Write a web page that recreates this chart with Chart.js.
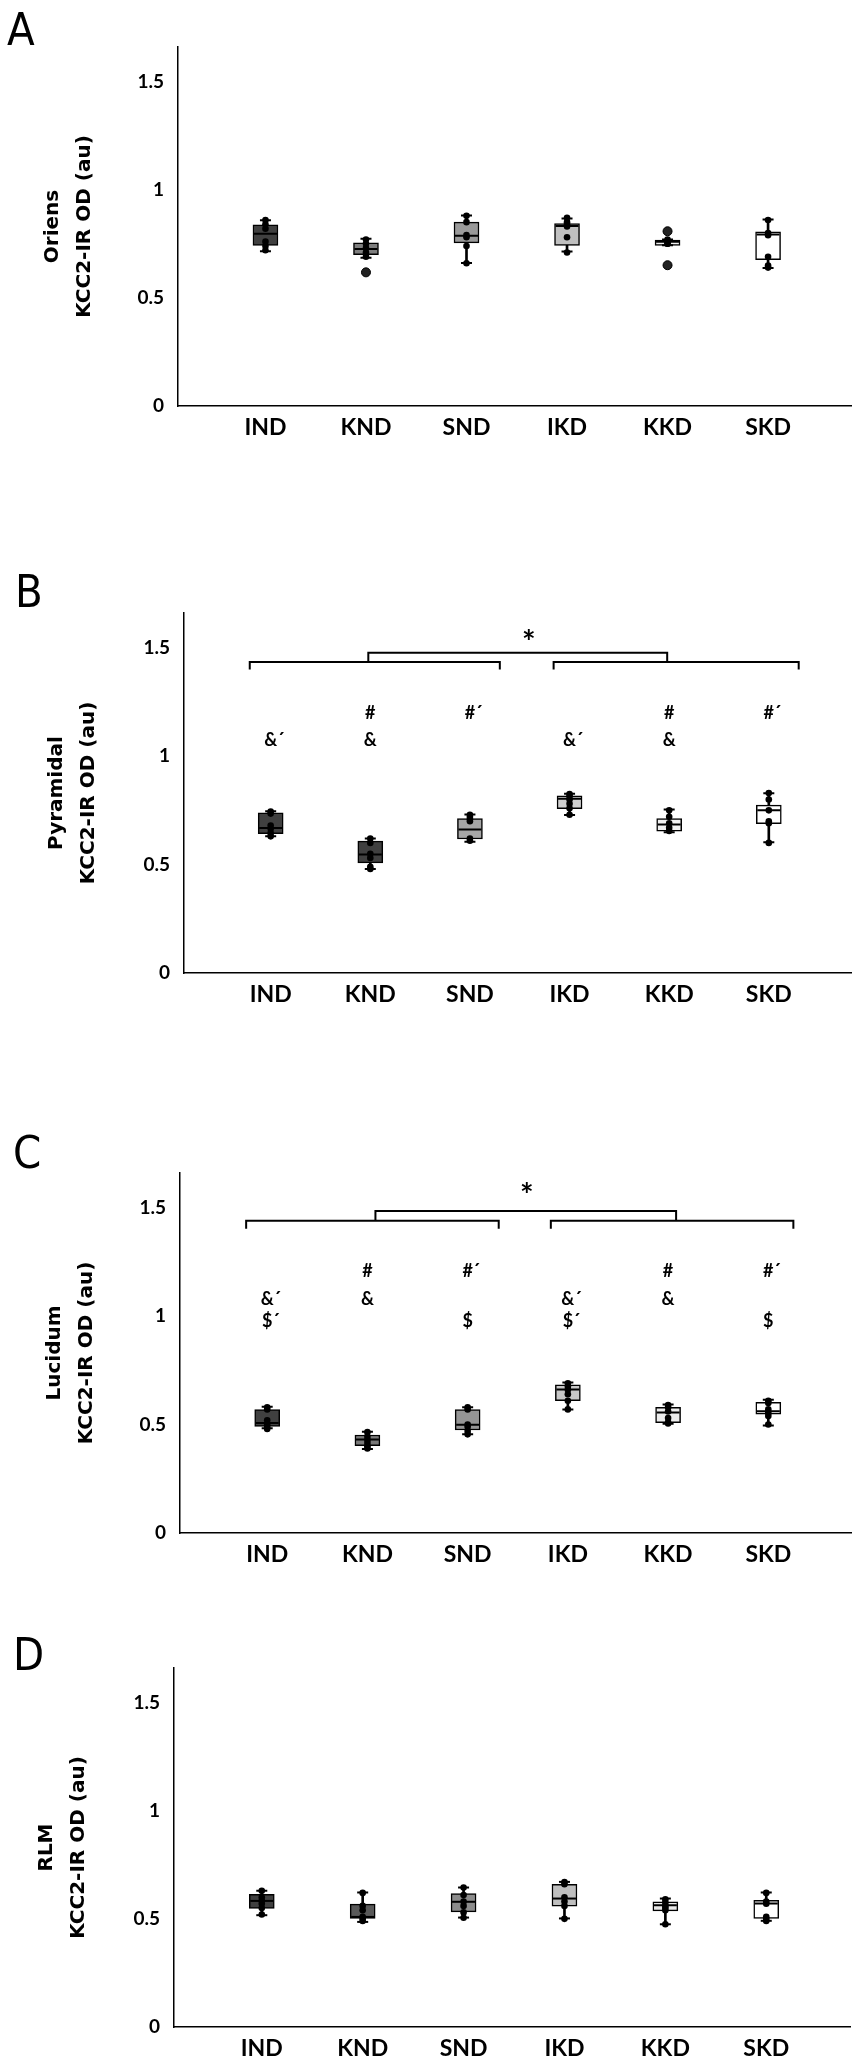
<!DOCTYPE html>
<html><head><meta charset="utf-8">
<script src="https://cdn.jsdelivr.net/npm/chart.js@4.4.1/dist/chart.umd.min.js"></script>
<style>
html,body{margin:0;padding:0;background:#fff;}
#page{position:relative;width:865px;height:2069px;overflow:hidden;background:#fff;}
.letter{position:absolute;font-family:'Liberation Sans Narrow','DejaVu Sans Condensed',sans-serif;font-size:45px;line-height:45px;color:#000;}
</style></head><body><div id="page"></div>
<script>
// ---------- data ----------
const categories = ['IND', 'KND', 'SND', 'IKD', 'KKD', 'SKD'];
const yTickValues = [0, 0.5, 1, 1.5];
const yMax = 1.66;
const yTitleUnit = 'KCC2-IR OD (au)';

// A - Oriens
const oriensMin = [0.716, 0.685, 0.661, 0.714, 0.743, 0.638];
const oriensQ1 = [0.743, 0.700, 0.754, 0.743, 0.743, 0.677];
const oriensMedian = [0.796, 0.726, 0.787, 0.832, 0.759, 0.793];
const oriensQ3 = [0.838, 0.754, 0.850, 0.844, 0.767, 0.805];
const oriensMax = [0.859, 0.773, 0.881, 0.867, 0.770, 0.862];
const oriensPoints = [[0.86, 0.84, 0.82, 0.76, 0.74, 0.72], [0.77, 0.75, 0.73, 0.71, 0.69], [0.88, 0.85, 0.79, 0.78, 0.74, 0.66], [0.87, 0.85, 0.84, 0.83, 0.78, 0.71], [0.77, 0.76, 0.75, 0.75], [0.86, 0.80, 0.79, 0.69, 0.65, 0.64]];
const oriensOutliers = [[], [0.618], [], [], [0.808, 0.651], []];

// B - Pyramidal
const pyramidalMin = [0.631, 0.480, 0.605, 0.728, 0.649, 0.603];
const pyramidalQ1 = [0.643, 0.508, 0.618, 0.758, 0.654, 0.689];
const pyramidalMedian = [0.669, 0.546, 0.662, 0.803, 0.685, 0.751];
const pyramidalQ3 = [0.738, 0.608, 0.712, 0.817, 0.712, 0.774];
const pyramidalMax = [0.746, 0.620, 0.731, 0.826, 0.754, 0.829];
const pyramidalPoints = [[0.745, 0.735, 0.68, 0.665, 0.645, 0.63], [0.62, 0.60, 0.55, 0.53, 0.49, 0.48], [0.73, 0.72, 0.71, 0.70, 0.62, 0.61], [0.825, 0.815, 0.80, 0.78, 0.76, 0.73], [0.75, 0.72, 0.69, 0.67, 0.655], [0.83, 0.80, 0.75, 0.70, 0.69, 0.60]];
const pyramidalHash = ['', '#', '#\u00B4', '', '#', '#\u00B4'];
const pyramidalAmp = ['&\u00B4', '&', '', '&\u00B4', '&', ''];

// C - Lucidum
const lucidumMin = [0.483, 0.387, 0.455, 0.569, 0.504, 0.496];
const lucidumQ1 = [0.491, 0.403, 0.475, 0.610, 0.509, 0.548];
const lucidumMedian = [0.507, 0.431, 0.499, 0.662, 0.556, 0.561];
const lucidumQ3 = [0.569, 0.452, 0.569, 0.683, 0.580, 0.602];
const lucidumMax = [0.582, 0.467, 0.580, 0.694, 0.593, 0.615];
const lucidumPoints = [[0.58, 0.57, 0.52, 0.50, 0.49, 0.48], [0.465, 0.445, 0.43, 0.415, 0.40, 0.39], [0.58, 0.57, 0.50, 0.49, 0.47, 0.455], [0.69, 0.675, 0.66, 0.64, 0.61, 0.57], [0.59, 0.58, 0.56, 0.53, 0.51, 0.505], [0.61, 0.60, 0.57, 0.555, 0.54, 0.50]];
const lucidumHash = ['', '#', '#\u00B4', '', '#', '#\u00B4'];
const lucidumAmp = ['&\u00B4', '&', '', '&\u00B4', '&', ''];
const lucidumDollar = ['$\u00B4', '', '$', '$\u00B4', '', '$'];

// D - RLM
const rlmMin = [0.517, 0.486, 0.506, 0.502, 0.475, 0.491];
const rlmQ1 = [0.548, 0.502, 0.532, 0.559, 0.537, 0.502];
const rlmMedian = [0.583, 0.509, 0.579, 0.594, 0.563, 0.571];
const rlmQ3 = [0.614, 0.568, 0.617, 0.660, 0.579, 0.586];
const rlmMax = [0.630, 0.622, 0.645, 0.671, 0.594, 0.622];
const rlmPoints = [[0.63, 0.60, 0.585, 0.57, 0.55, 0.52], [0.62, 0.56, 0.54, 0.51, 0.50, 0.49], [0.645, 0.61, 0.58, 0.56, 0.53, 0.505], [0.67, 0.66, 0.60, 0.58, 0.56, 0.50], [0.59, 0.575, 0.56, 0.55, 0.54, 0.475], [0.62, 0.58, 0.57, 0.51, 0.50, 0.49]];

const significanceStar = '*';

// ---------- layout / style ----------
const panels = [
  { letter: 'A', name: 'Oriens', min: oriensMin, q1: oriensQ1, med: oriensMedian, q3: oriensQ3, max: oriensMax, pts: oriensPoints, out: oriensOutliers,
    top: 47, zero: 406, axisX: 178, right: 855, titleX: 53, letterTop: 7, letterLeft: 7,
    colors: ['#404040', '#7f7f7f', '#9a9a9a', '#c0c0c0', '#f0f0f0', '#ffffff'] },
  { letter: 'B', name: 'Pyramidal', min: pyramidalMin, q1: pyramidalQ1, med: pyramidalMedian, q3: pyramidalQ3, max: pyramidalMax, pts: pyramidalPoints,
    top: 613, zero: 973, axisX: 184, right: 858, titleX: 57, letterTop: 569, letterLeft: 15,
    colors: ['#404040', '#404040', '#a6a6a6', '#d0d0d0', '#f2f2f2', '#ffffff'],
    rows: [{ labels: pyramidalHash, level: 1.197 }, { labels: pyramidalAmp, level: 1.074 }],
    brackets: [{ from: -0.21, to: 2.30, level: 1.434, arm: 1.40 }, { from: 2.84, to: 5.30, level: 1.434, arm: 1.40 }, { from: 0.98, to: 3.98, level: 1.477, arm: 1.434 }],
    star: { x: 2.59, level: 1.546 } },
  { letter: 'C', name: 'Lucidum', min: lucidumMin, q1: lucidumQ1, med: lucidumMedian, q3: lucidumQ3, max: lucidumMax, pts: lucidumPoints,
    top: 1173, zero: 1533, axisX: 180, right: 855, titleX: 55, letterTop: 1130, letterLeft: 13,
    colors: ['#404040', '#7a7a7a', '#959595', '#c8c8c8', '#ececec', '#ffffff'],
    rows: [{ labels: lucidumHash, level: 1.207 }, { labels: lucidumAmp, level: 1.079 }, { labels: lucidumDollar, level: 0.975 }],
    brackets: [{ from: -0.21, to: 2.31, level: 1.44, arm: 1.403 }, { from: 2.83, to: 5.25, level: 1.44, arm: 1.403 }, { from: 1.08, to: 4.08, level: 1.485, arm: 1.44 }],
    star: { x: 2.59, level: 1.577 } },
  { letter: 'D', name: 'RLM', min: rlmMin, q1: rlmQ1, med: rlmMedian, q3: rlmQ3, max: rlmMax, pts: rlmPoints,
    top: 1668, zero: 2027, axisX: 174, right: 850, titleX: 47, letterTop: 1632, letterLeft: 13,
    colors: ['#404040', '#595959', '#8c8c8c', '#bfbfbf', '#e8e8e8', '#ffffff'] }
];

const decorPlugin = {
  id: 'panelDecor',
  afterDatasetsDraw(chart, args, opts) {
    const { ctx } = chart;
    const x = chart.scales.x, y = chart.scales.y;
    ctx.save();
    ctx.fillStyle = '#000';
    ctx.strokeStyle = '#000';
    ctx.textBaseline = 'middle';
    ctx.textAlign = 'left';
    ctx.font = 'bold 18px Lato';
    (opts.rows || []).forEach(row => {
      row.labels.forEach((txt, i) => {
        if (!txt) return;
        const w = ctx.measureText(txt.charAt(0)).width;
        ctx.fillText(txt, x.getPixelForValue(i) - w / 2, y.getPixelForValue(row.level));
      });
    });
    ctx.lineWidth = 2;
    (opts.brackets || []).forEach(b => {
      const x0 = x.getPixelForValue(b.from), x1 = x.getPixelForValue(b.to);
      const yl = y.getPixelForValue(b.level), ya = y.getPixelForValue(b.arm);
      ctx.beginPath();
      ctx.moveTo(x0, ya); ctx.lineTo(x0, yl); ctx.lineTo(x1, yl); ctx.lineTo(x1, ya);
      ctx.stroke();
    });
    if (opts.star) {
      ctx.font = 'bold 32px Lato';
      ctx.textAlign = 'center';
      ctx.textBaseline = 'alphabetic';
      ctx.fillText(significanceStar, x.getPixelForValue(opts.star.x), y.getPixelForValue(opts.star.level) + 16);
    }
    ctx.restore();
  }
};

const page = document.getElementById('page');

function makePanel(p) {
  const padTop = 30, xH = 50;
  const plotH = p.zero - p.top;
  const H = plotH + padTop + xH;
  const canvas = document.createElement('canvas');
  canvas.width = 865; canvas.height = H;
  canvas.style.cssText = 'position:absolute;left:0;top:' + (p.top - padTop) + 'px;width:865px;height:' + H + 'px;';
  page.appendChild(canvas);

  const letter = document.createElement('div');
  letter.className = 'letter';
  letter.textContent = p.letter;
  letter.style.top = p.letterTop + 'px';
  letter.style.left = p.letterLeft + 'px';
  page.appendChild(letter);

  const idx = categories.map((c, i) => i);
  const pointData = [];
  p.pts.forEach((arr, i) => arr.forEach(v => pointData.push({ x: i, y: v })));
  const outData = [];
  (p.out || []).forEach((arr, i) => arr.forEach(v => outData.push({ x: i, y: v })));
  const capData = idx.map(i => ({ x: i, y: p.min[i] })).concat(idx.map(i => ({ x: i, y: p.max[i] })));

  new Chart(canvas, {
    type: 'scatter',
    data: {
      datasets: [
        { type: 'bar', label: 'whisker', data: idx.map(i => ({ x: i, y: [p.min[i], p.max[i]] })),
          barThickness: 2, backgroundColor: '#000', borderWidth: 0, grouped: false, order: 5 },
        { type: 'bar', label: 'box', data: idx.map(i => ({ x: i, y: [p.q1[i], p.q3[i]] })),
          barThickness: 25, backgroundColor: p.colors, borderColor: '#000', borderWidth: 1.5, borderSkipped: false, grouped: false, order: 4 },
        { type: 'scatter', label: 'median', data: idx.map(i => ({ x: i, y: p.med[i] })),
          pointStyle: 'line', pointRadius: 11.5, pointBorderColor: '#000', pointBorderWidth: 2, order: 3 },
        { type: 'scatter', label: 'caps', data: capData,
          pointStyle: 'line', pointRadius: 5.5, pointBorderColor: '#000', pointBorderWidth: 2, order: 2 },
        { type: 'scatter', label: 'points', data: pointData,
          pointStyle: 'circle', pointRadius: 3.3, pointBackgroundColor: '#000', pointBorderWidth: 0, order: 1 },
        { type: 'scatter', label: 'outliers', data: outData,
          pointStyle: 'circle', pointRadius: 4.5, pointBackgroundColor: '#222', pointBorderColor: '#000', pointBorderWidth: 1, order: 0 }
      ]
    },
    options: {
      responsive: false,
      animation: false,
      events: [],
      layout: { padding: { top: padTop, left: 0, right: 865 - p.right, bottom: 0 } },
      plugins: {
        legend: { display: false },
        tooltip: { enabled: false },
        panelDecor: { rows: p.rows, brackets: p.brackets, star: p.star }
      },
      scales: {
        x: {
          type: 'linear', min: -0.87, max: 5.83, offset: false,
          grid: { display: false, drawTicks: false, offset: false },
          border: { display: true, color: '#000', width: 1.5 },
          afterBuildTicks: s => { s.ticks = categories.map((c, i) => ({ value: i })); },
          ticks: { autoSkip: false, maxRotation: 0, padding: 8, color: '#000',
            font: { family: 'Lato', weight: 'bold', size: 23 },
            callback: v => categories[v] },
          afterFit: s => { s.height = xH; s.paddingLeft = 0; s.paddingRight = 0; }
        },
        y: {
          type: 'linear', min: 0, max: yMax,
          grid: { display: false, drawTicks: false },
          border: { display: true, color: '#000', width: 1.5 },
          afterBuildTicks: s => { s.ticks = yTickValues.map(v => ({ value: v })); },
          ticks: { padding: 14, color: '#000', font: { family: 'Lato', weight: 'bold', size: 19 },
            callback: v => String(v) },
          title: { display: true, text: [p.name, yTitleUnit], color: '#000',
            font: { family: 'DejaVu Sans', weight: 'bold', size: 20, lineHeight: '32px' },
            padding: { top: p.titleX - 16, bottom: 0 } },
          afterFit: s => { s.width = p.axisX; s.paddingTop = 0; s.paddingBottom = 0; }
        }
      }
    },
    plugins: [decorPlugin]
  });
}

panels.forEach(makePanel);
</script>
</body></html>
